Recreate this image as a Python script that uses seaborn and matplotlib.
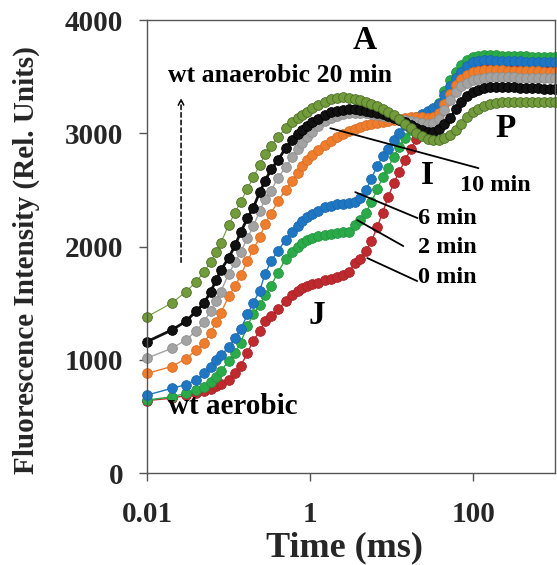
import matplotlib
matplotlib.use("Agg")
import matplotlib.pyplot as plt
import seaborn as sns
from matplotlib.ticker import NullLocator

# sampling times (ms) and the seven fluorescence transients (rel. units)
time_ms = [0.01, 0.02, 0.03, 0.04, 0.05, 0.06, 0.07, 0.08,
           0.1, 0.12, 0.14, 0.17, 0.2,
           0.24, 0.28, 0.33, 0.4,
           0.5, 0.6, 0.7, 0.8, 0.9,
           1.05, 1.25, 1.5, 1.8, 2.1, 2.5,
           3.0, 3.5, 4.1, 4.8, 5.6, 6.6, 7.7, 9,
           10.5, 12.3, 14.5, 17, 20,
           23.5, 27.5, 32, 37.5, 44,
           52, 61, 71, 83, 98,
           115, 135, 160, 190, 225,
           265, 310, 370, 440, 520,
           620, 730, 860, 1000]

wt_0min = [640, 660, 685, 705, 725, 745, 765, 785,
           820, 880, 945, 1060, 1170,
           1250, 1340, 1390, 1445,
           1515, 1570, 1605, 1630, 1650,
           1665, 1680, 1700, 1715, 1730, 1750,
           1777, 1850, 1890, 1960, 2045, 2170, 2300, 2435,
           2557, 2660, 2760, 2860, 2945,
           3010, 3060, 3100, 3170, 3270,
           3380, 3470, 3530, 3575, 3600,
           3615, 3620, 3620, 3620, 3618,
           3616, 3615, 3614, 3613, 3612,
           3612, 3612, 3612, 3612]

wt_2min = [644, 673, 703, 733, 762, 800, 850, 900,
           990, 1060, 1150, 1300, 1400,
           1480, 1570, 1650, 1770,
           1890, 1950, 1995, 2030, 2055,
           2075, 2090, 2102, 2112, 2120, 2126,
           2132, 2190, 2233, 2300, 2390, 2505, 2610, 2695,
           2792, 2880, 2960, 3025, 3080,
           3112, 3150, 3190, 3270, 3370,
           3470, 3545, 3605, 3645, 3670,
           3685, 3690, 3690, 3688, 3686,
           3684, 3682, 3680, 3678, 3677,
           3676, 3675, 3675, 3675]

wt_6min = [688, 748, 780, 821, 880, 940, 1000, 1040,
           1110, 1190, 1270, 1400, 1500,
           1610, 1760, 1870, 1960,
           2060, 2130, 2185, 2225, 2260,
           2290, 2315, 2345, 2362, 2372, 2378,
           2382, 2395, 2430, 2495, 2600, 2710, 2795, 2865,
           2939, 3005, 3070, 3110, 3145,
           3170, 3195, 3220, 3260, 3340,
           3420, 3490, 3545, 3595, 3625,
           3640, 3645, 3645, 3642, 3640,
           3638, 3636, 3634, 3632, 3630,
           3630, 3630, 3630, 3630]

wt_10min = [880, 940, 1010, 1086, 1150, 1240, 1330, 1410,
            1560, 1650, 1745, 1870, 1975,
            2080, 2200, 2290, 2400,
            2500, 2580, 2650, 2710, 2760,
            2805, 2855, 2900, 2935, 2965, 2995,
            3020, 3040, 3055, 3070, 3082, 3092, 3102, 3112,
            3120, 3128, 3135, 3140, 3142,
            3140, 3135, 3140, 3180, 3260,
            3350, 3425, 3478, 3515, 3538,
            3550, 3555, 3557, 3557, 3556,
            3554, 3552, 3550, 3548, 3547,
            3546, 3545, 3545, 3545]

wt_grey = [1015, 1100, 1175, 1255, 1335, 1430, 1520, 1600,
           1760, 1860, 1950, 2075, 2180,
           2310, 2420, 2490, 2605,
           2700, 2790, 2860, 2915, 2965,
           3010, 3060, 3105, 3135, 3155, 3170,
           3175, 3178, 3178, 3175, 3170, 3164, 3156, 3147,
           3137, 3127, 3117, 3107, 3097,
           3088, 3080, 3090, 3130, 3205,
           3295, 3365, 3415, 3448, 3468,
           3480, 3490, 3495, 3498, 3498,
           3497, 3495, 3492, 3490, 3488,
           3486, 3485, 3484, 3484]

wt_black = [1160, 1262, 1340, 1430, 1500, 1600, 1700, 1790,
            1900, 2010, 2125, 2250, 2340,
            2480, 2580, 2680, 2760,
            2870, 2940, 2990, 3030, 3060,
            3095, 3130, 3165, 3185, 3198, 3205,
            3210, 3210, 3205, 3200, 3192, 3182, 3168, 3152,
            3135, 3115, 3095, 3072, 3050,
            3030, 3015, 3015, 3040, 3080,
            3135, 3210, 3275, 3330, 3362,
            3385, 3400, 3408, 3410, 3410,
            3408, 3405, 3402, 3400, 3398,
            3396, 3395, 3395, 3395]

wt_20min = [1380, 1500, 1600, 1690, 1775, 1865, 1950, 2030,
            2190, 2300, 2395, 2510, 2610,
            2720, 2815, 2890, 2965,
            3045, 3095, 3135, 3165, 3190,
            3220, 3250, 3278, 3300, 3312, 3318,
            3312, 3302, 3290, 3275, 3258, 3238, 3212, 3188,
            3160, 3122, 3082, 3042, 3005,
            2975, 2952, 2940, 2940, 2955,
            2982, 3030, 3085, 3140, 3185,
            3215, 3240, 3258, 3270, 3276,
            3278, 3280, 3280, 3280, 3280,
            3280, 3280, 3280, 3280]

x_ticks = [0.01, 1, 100]
x_tick_labels = ["0.01", "1", "100"]
y_ticks = [0, 1000, 2000, 3000, 4000]

# (values, face colour, edge colour, line width) in drawing order
series = [
    (wt_0min, "#BE2A2E", "#A82226", 1.0),
    (wt_2min, "#2BAA4A", "#22963F", 1.0),
    (wt_6min, "#1F77C4", "#1A68AE", 1.0),
    (wt_10min, "#EE7D2E", "#D86E24", 1.0),
    (wt_grey, "#A3A3A3", "#8E8E8E", 1.0),
    (wt_black, "#111111", "#000000", 2.0),
    (wt_20min, "#729C3C", "#4C6B26", 0.8),
]

sns.set_style("ticks")
plt.rcParams['font.family'] = ['Liberation Serif', 'DejaVu Serif']
plt.rcParams['font.weight'] = 'bold'

fig = plt.figure(figsize=(5.57, 5.65), dpi=100)
ax = fig.add_axes([0.264, 0.1628, 0.7326, 0.8018])

for vals, col, edge, lw in series:
    sns.lineplot(x=time_ms, y=vals, ax=ax, color=col, marker='o',
                 markersize=7, markeredgecolor=edge, markeredgewidth=0.6,
                 linewidth=lw, estimator=None, sort=False, clip_on=False)

ax.set_xscale('log')
ax.set_xlim(0.01, 1000)
ax.set_ylim(0, 4000)
ax.set_xticks(x_ticks)
ax.set_xticklabels(x_tick_labels)
ax.xaxis.set_minor_locator(NullLocator())
ax.set_yticks(y_ticks)
ax.tick_params(axis='both', direction='out', length=6, width=1,
               color='#555555', labelsize=21)
ax.tick_params(axis='x', pad=14)
ax.tick_params(axis='y', pad=11)

for sp in ax.spines.values():
    sp.set_visible(True)
    sp.set_color('#555555')
    sp.set_linewidth(1.0)

ax.set_xlabel('Time (ms)', fontsize=26, fontweight='bold')
ax.set_ylabel('Fluorescence Intensity (Rel. Units)', fontsize=21, fontweight='bold')
ax.xaxis.set_label_coords(0.485, -0.128)
ax.yaxis.set_label_coords(-0.262, 0.47)

txt = dict(fontweight='bold', color='black')
ax.text(4.7, 3822, 'A', fontsize=24, ha='center', va='center', **txt)
ax.text(247, 3045, 'P', fontsize=24, ha='center', va='center', **txt)
ax.text(27.3, 2630, 'I', fontsize=24, ha='center', va='center', **txt)
ax.text(1.19, 1395, 'J', fontsize=24, ha='center', va='center', **txt)
ax.text(0.0181, 3513, 'wt anaerobic 20 min', fontsize=18.5, ha='left', va='center', **txt)
ax.text(0.0181, 583, 'wt aerobic', fontsize=21, ha='left', va='center', **txt)

ax.annotate('', xy=(0.0261, 3336), xytext=(0.0261, 1836),
            arrowprops=dict(arrowstyle='->', linestyle=(0, (3, 2)), lw=1.1, color='black'))

# time labels with leader lines
labels = [
    ('10 min', (1.76, 3045), (115, 2692), (69, 2542)),
    ('6 min', (3.56, 2480), (20.6, 2251), (21.1, 2251)),
    ('2 min', (3.76, 2233), (13.8, 2004), (21.1, 1995)),
    ('0 min', (5.0, 1898), (20.4, 1695), (21.1, 1730)),
]
for name, p0, p1, tp in labels:
    ax.plot([p0[0], p1[0]], [p0[1], p1[1]], color='black', lw=1.3)
    ax.text(tp[0], tp[1], name, fontsize=17.5, ha='left', va='center', **txt)

fig.savefig('out.png', dpi=100)
